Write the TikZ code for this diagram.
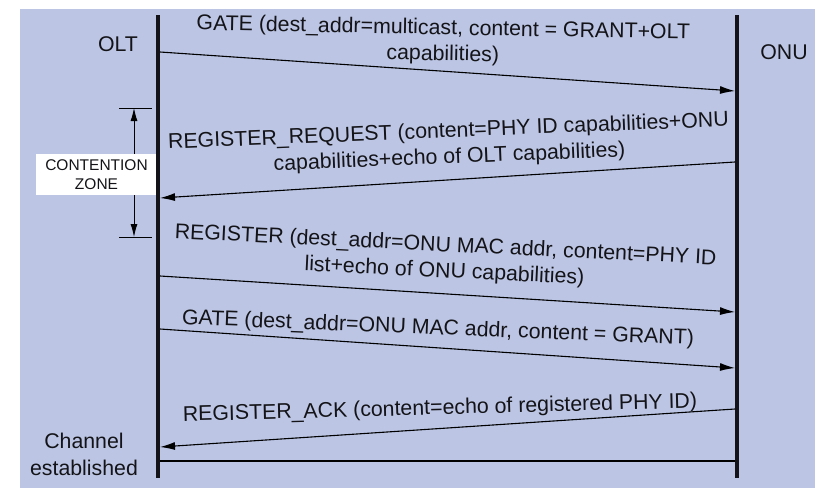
\documentclass[tikz,border=0pt]{standalone}
\usepackage{fontspec}
\setmainfont{Liberation Sans}
\usetikzlibrary{arrows.meta}
\definecolor{panelblue}{RGB}{188,198,228}
\definecolor{inkgray}{RGB}{20,20,24}
\tikzset{
	msg/.style={-{Latex[length=15pt,width=8pt]}, line width=1.1pt},
	zonearrow/.style={-{Latex[length=13pt,width=7pt]}, line width=0.9pt},
	msgtext/.style={align=center, inner sep=0pt, text=inkgray, font=\fontsize{21.3}{26}\selectfont},
	lifeline/.style={line width=3.8pt, draw=inkgray},
}
\begin{document}
\begin{tikzpicture}[x=1pt, y=-1pt]
		\useasboundingbox (0,0) rectangle (839,501);
		\fill[panelblue] (20,9) rectangle (815,488);
		
		% lifelines
		\coordinate (olttop) at (158,15);
		\coordinate (oltbot) at (158,478);
		\coordinate (onutop) at (737,15);
		\coordinate (onubot) at (737,478);
		\node[msgtext] (olt) at (118,44) {OLT};
		\node[msgtext] (onu) at (784,52) {ONU};
		\node[msgtext, font=\fontsize{21.3}{27}\selectfont] (established) at (84,454) {Channel\\established};
		
		% contention zone
		\coordinate (ztopl) at (119,108);
		\coordinate (ztopr) at (152,108);
		\coordinate (zbotl) at (119,237);
		\coordinate (zbotr) at (152,237);
		\coordinate (ztop) at (134,108);
		\coordinate (zbot) at (134,237);
		\draw[line width=0.9pt] (ztopl) -- (ztopr);
		\draw[line width=0.9pt] (zbotl) -- (zbotr);
		\node[fill=white, minimum width=121pt, minimum height=41pt, inner sep=0pt, align=center, text=inkgray, font=\fontsize{15.5}{19}\selectfont] (zone) at (96.5,174.5) {CONTENTION\\ZONE};
		\draw[zonearrow] (zone.north -| ztop) -- (ztop);
		\draw[zonearrow] (zone.south -| zbot) -- (zbot);
		
		\draw[lifeline] (olttop) -- (oltbot);
		\draw[lifeline] (onutop) -- (onubot);
		
		% messages
		\coordinate (olt1) at (160,52);   \coordinate (onu1) at (735,91);
		\coordinate (onu2) at (735,162);  \coordinate (olt2) at (160,198);
		\coordinate (olt3) at (160,276);  \coordinate (onu3) at (735,312);
		\coordinate (olt4) at (160,329);  \coordinate (onu4) at (735,368);
		\coordinate (onu5) at (735,409);  \coordinate (olt5) at (160,447);
		\coordinate (olt6) at (160,461);  \coordinate (onu6) at (735,461);
		
		\draw[msg] (olt1) -- (onu1);
		\draw[msg] (onu2) -- (olt2);
		\draw[msg] (olt3) -- (onu3);
		\draw[msg] (olt4) -- (onu4);
		\draw[msg] (onu5) -- (olt5);
		\draw[line width=1.1pt] (olt6) -- (onu6);
		
		\node[msgtext, rotate=-1.1] (gate1) at (443,42) {GATE (dest\_addr=multicast, content = GRANT+OLT\\capabilities)};
		\node[msgtext, rotate=2.3] (regreq) at (449,145) {REGISTER\_REQUEST (content=PHY ID capabilities+ONU\\capabilities+echo of OLT capabilities)};
		\node[msgtext, rotate=-2.8] (reg) at (445,259) {REGISTER (dest\_addr=ONU MAC addr, content=PHY ID\\list+echo of ONU capabilities)};
		\node[msgtext, rotate=-2.3] (gate2) at (438,329) {GATE (dest\_addr=ONU MAC addr, content = GRANT)};
		\node[msgtext, rotate=1.5] (regack) at (440,409) {REGISTER\_ACK (content=echo of registered PHY ID)};
	\end{tikzpicture}
\end{document}
